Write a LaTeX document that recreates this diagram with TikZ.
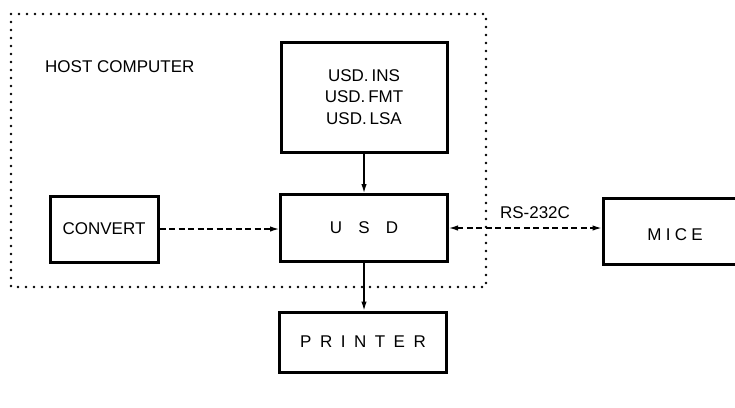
\documentclass[tikz,border=0pt]{standalone}
\usepackage{fontspec}
\setmainfont{Liberation Sans}
\usetikzlibrary{arrows.meta}
\begin{document}
\begin{tikzpicture}[x=1pt,y=-1pt,
  txt/.style={font=\fontsize{17}{21.5}\selectfont},
  blk/.style={draw, line width=3pt, inner sep=0pt, txt, align=center},
  tip/.tip={Latex[length=9pt,width=5.5pt]},
  conn/.style={line width=1.3pt, -tip},
  dconn/.style={conn, dash pattern=on 6pt off 3.5pt},
  hostbox/.style={line width=2.6pt, line cap=round, dash pattern=on 0pt off 8pt}
]
\useasboundingbox (0,0) rectangle (735,407);
\draw[hostbox] (11,14) rectangle (486,287);
\node[txt, anchor=west, inner sep=0pt] (host) at (45,67) {HOST COMPUTER};
\node[blk, minimum width=166pt, minimum height=110pt] (top) at (364,97)
  {USD.\,INS\\USD.\,FMT\\USD.\,LSA};
\node[blk, minimum width=167pt, minimum height=67pt] (usd) at (364,228)
  {U\hspace{0.95em}S\hspace{0.95em}D};
\node[blk, minimum width=108pt, minimum height=66pt] (conv) at (104,229) {CONVERT};
\node[blk, minimum width=160pt, minimum height=66pt] (mice) at (683,231) {};
\node[txt] (micet) at (675,235) {M\hspace{0.25em}I\hspace{0.25em}C\hspace{0.25em}E};
\node[blk, minimum width=167pt, minimum height=60pt] (prn) at (363,342)
  {P\hspace{0.5em}R\hspace{0.5em}I\hspace{0.5em}N\hspace{0.5em}T\hspace{0.5em}E\hspace{0.5em}R};
\node[txt] (rs) at (535,213) {RS-232C};
\draw[conn] (top.south) -- (usd.north);
\draw[dconn] (conv.east) -- (conv.east -| usd.west);
\draw[dconn, tip-tip] (usd.east) -- (usd.east -| mice.west);
\draw[conn] (usd.south) -- (usd.south |- prn.north);
\end{tikzpicture}
\end{document}
